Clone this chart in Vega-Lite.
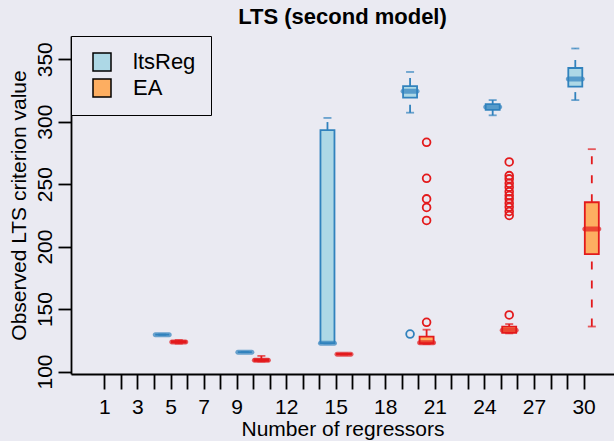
{
  "$schema": "https://vega.github.io/schema/vega-lite/v6.json",
  "width": 543,
  "height": 338,
  "autosize": {"type": "none"},
  "padding": {"left": 71, "top": 36, "right": 0, "bottom": 67},
  "background": "#EAEAF2",
  "title": {"text": "LTS (second model)", "fontSize": 22, "font": "Liberation Sans", "fontWeight": "bold", "anchor": "middle", "frame": "group", "offset": 7, "color": "black"},
  "config": {
    "view": {"stroke": null},
    "font": "Liberation Sans",
    "axis": {"grid": false, "labelFont": "Liberation Sans", "titleFont": "Liberation Sans", "labelColor": "black", "titleColor": "black", "tickColor": "black", "domainColor": "black", "labelFontSize": 21, "titleFontSize": 21, "titleFontWeight": "normal", "tickWidth": 1.8, "domainWidth": 1.8}
  },
  "datasets": {
    "boxes": [
      {"n": 5, "method": "ltsReg", "at": 4.5, "lo": 129.5, "q1": 129.5, "med": 129.5, "q3": 129.5, "hi": 129.5},
      {"n": 10, "method": "ltsReg", "at": 9.5, "lo": 115.5, "q1": 115.5, "med": 115.5, "q3": 115.5, "hi": 115.5},
      {"n": 15, "method": "ltsReg", "at": 14.5, "lo": 122.5, "q1": 122.7, "med": 122.7, "q3": 293.3, "hi": 303},
      {"n": 20, "method": "ltsReg", "at": 19.5, "lo": 307.2, "q1": 319.2, "med": 324.3, "q3": 328.5, "hi": 339.8},
      {"n": 25, "method": "ltsReg", "at": 24.5, "lo": 305.1, "q1": 309.5, "med": 311.7, "q3": 314, "hi": 317.3},
      {"n": 30, "method": "ltsReg", "at": 29.5, "lo": 317.3, "q1": 328, "med": 334.1, "q3": 343, "hi": 358.6},
      {"n": 5, "method": "EA", "at": 5.5, "lo": 122.3, "q1": 123.2, "med": 123.7, "q3": 124.3, "hi": 125.2},
      {"n": 10, "method": "EA", "at": 10.5, "lo": 108, "q1": 108.5, "med": 109, "q3": 109.8, "hi": 112.5},
      {"n": 15, "method": "EA", "at": 15.5, "lo": 113.5, "q1": 113.7, "med": 113.9, "q3": 114.1, "hi": 114.3},
      {"n": 20, "method": "EA", "at": 20.5, "lo": 122, "q1": 122.6, "med": 123, "q3": 128, "hi": 133.5},
      {"n": 25, "method": "EA", "at": 25.5, "lo": 130.5, "q1": 131, "med": 133, "q3": 136, "hi": 138},
      {"n": 30, "method": "EA", "at": 30.5, "lo": 136, "q1": 194, "med": 214, "q3": 235.5, "hi": 278}
    ],
    "outliers": [
      {"n": 20, "method": "ltsReg", "at": 19.5, "value": 130},
      {"n": 20, "method": "EA", "at": 20.5, "value": 283.5},
      {"n": 20, "method": "EA", "at": 20.5, "value": 254.7},
      {"n": 20, "method": "EA", "at": 20.5, "value": 238.2},
      {"n": 20, "method": "EA", "at": 20.5, "value": 231.3},
      {"n": 20, "method": "EA", "at": 20.5, "value": 220.9},
      {"n": 20, "method": "EA", "at": 20.5, "value": 139.4},
      {"n": 25, "method": "EA", "at": 25.5, "value": 267.8},
      {"n": 25, "method": "EA", "at": 25.5, "value": 256.8},
      {"n": 25, "method": "EA", "at": 25.5, "value": 254.2},
      {"n": 25, "method": "EA", "at": 25.5, "value": 250.7},
      {"n": 25, "method": "EA", "at": 25.5, "value": 247.6},
      {"n": 25, "method": "EA", "at": 25.5, "value": 244},
      {"n": 25, "method": "EA", "at": 25.5, "value": 240.9},
      {"n": 25, "method": "EA", "at": 25.5, "value": 238.2},
      {"n": 25, "method": "EA", "at": 25.5, "value": 234.8},
      {"n": 25, "method": "EA", "at": 25.5, "value": 231.6},
      {"n": 25, "method": "EA", "at": 25.5, "value": 228.1},
      {"n": 25, "method": "EA", "at": 25.5, "value": 224.9},
      {"n": 25, "method": "EA", "at": 25.5, "value": 145.3}
    ]
  },
  "layer": [
    {
      "data": {"name": "boxes"},
      "mark": {"type": "rule", "strokeDash": [8, 11], "strokeWidth": 1.8},
      "encoding": {
        "x": {"field": "at", "type": "quantitative", "scale": {"domain": [-0.72, 31.54], "nice": false, "zero": false},
          "axis": {"values": [1,2,3,4,5,6,7,8,9,10,11,12,13,14,15,16,17,18,19,20,21,22,23,24,25,26,27,28,29,30], "tickCount": 60, "format": "d", "labelExpr": "indexof([1,3,5,7,9,12,15,18,21,24,27,30], datum.value) >= 0 ? datum.label : ''", "labelOverlap": false, "tickSize": 15, "labelPadding": 7, "title": "Number of regressors", "titlePadding": 1}},
        "y": {"field": "lo", "type": "quantitative", "scale": {"domain": [98, 368.6], "nice": false, "zero": false},
          "axis": {"values": [100, 150, 200, 250, 300, 350], "tickCount": 20, "labelAngle": -90, "labelAlign": "center", "labelBaseline": "bottom", "tickSize": 13, "labelPadding": 3, "title": "Observed LTS criterion value", "titlePadding": 5}},
        "y2": {"field": "q1"},
        "color": {"field": "method", "type": "nominal", "scale": {"range": ["#E31A1C", "#3182BD"]}, "legend": null}
      }
    },
    {
      "data": {"name": "boxes"},
      "mark": {"type": "rule", "strokeDash": [8, 11], "strokeWidth": 1.8},
      "encoding": {
        "x": {"field": "at", "type": "quantitative"},
        "y": {"field": "q3", "type": "quantitative"},
        "y2": {"field": "hi"},
        "color": {"field": "method", "type": "nominal", "legend": null}
      }
    },
    {
      "data": {"name": "boxes"},
      "mark": {"type": "tick", "orient": "horizontal", "size": 8, "thickness": 1.8},
      "encoding": {
        "x": {"field": "at", "type": "quantitative"},
        "y": {"field": "lo", "type": "quantitative"},
        "color": {"field": "method", "type": "nominal", "legend": null}
      }
    },
    {
      "data": {"name": "boxes"},
      "mark": {"type": "tick", "orient": "horizontal", "size": 8, "thickness": 1.8},
      "encoding": {
        "x": {"field": "at", "type": "quantitative"},
        "y": {"field": "hi", "type": "quantitative"},
        "color": {"field": "method", "type": "nominal", "legend": null}
      }
    },
    {
      "data": {"name": "boxes"},
      "mark": {"type": "bar", "width": 14, "strokeWidth": 1.8},
      "encoding": {
        "x": {"field": "at", "type": "quantitative"},
        "y": {"field": "q1", "type": "quantitative"},
        "y2": {"field": "q3"},
        "stroke": {"field": "method", "type": "nominal", "scale": {"range": ["#E31A1C", "#3182BD"]}, "legend": null},
        "fill": {"field": "method", "type": "nominal", "scale": {"domain": ["ltsReg", "EA"], "range": ["#ADD8E6", "#FDAE61"]},
          "legend": {"title": null, "orient": "none", "legendX": 0, "legendY": 0, "padding": 15, "symbolOffset": 5, "strokeColor": "black", "fillColor": "#EAEAF2", "symbolType": "square", "symbolSize": 324, "symbolStrokeColor": "black", "symbolStrokeWidth": 1.5, "symbolOpacity": 1, "labelFontSize": 22, "labelFont": "Liberation Sans", "labelColor": "black", "labelOffset": 20, "rowPadding": 2}}
      }
    },
    {
      "data": {"name": "boxes"},
      "mark": {"type": "tick", "orient": "horizontal", "size": 19, "thickness": 5, "cornerRadius": 2.5},
      "encoding": {
        "x": {"field": "at", "type": "quantitative"},
        "y": {"field": "med", "type": "quantitative"},
        "color": {"field": "method", "type": "nominal", "legend": null}
      }
    },
    {
      "data": {"name": "outliers"},
      "mark": {"type": "point", "shape": "circle", "filled": false, "size": 60, "strokeWidth": 1.8, "opacity": 1},
      "encoding": {
        "x": {"field": "at", "type": "quantitative"},
        "y": {"field": "value", "type": "quantitative"},
        "color": {"field": "method", "type": "nominal", "legend": null}
      }
    },
    {
      "mark": {"type": "rule", "color": "black", "strokeWidth": 1.8},
      "encoding": {"y": {"datum": 368.6}}
    }
  ]
}
